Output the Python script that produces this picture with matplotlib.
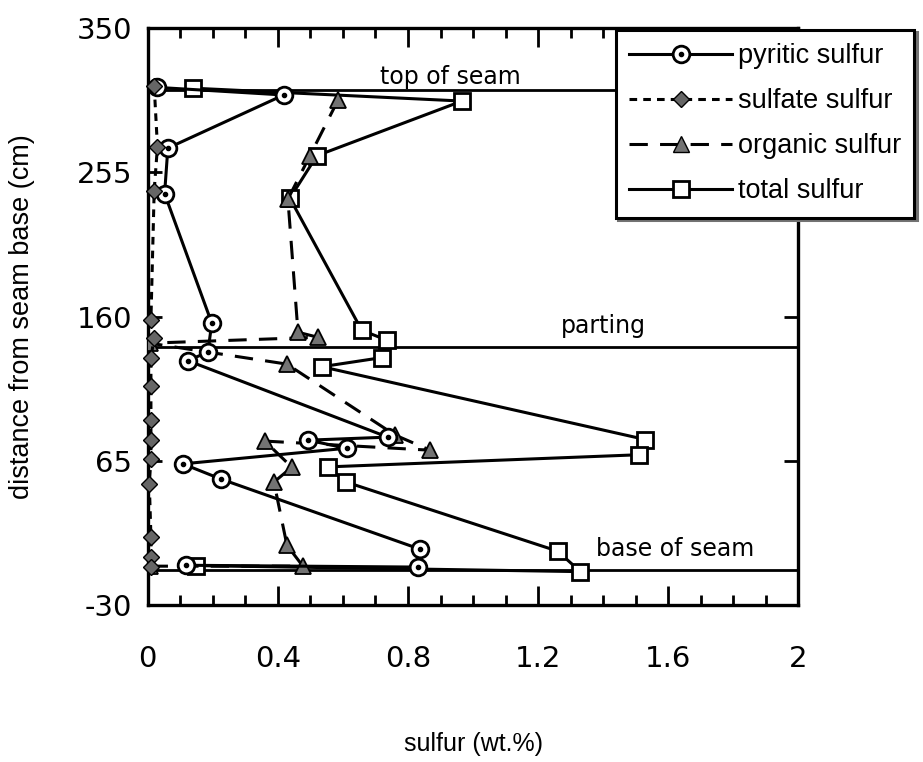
import matplotlib
matplotlib.use("Agg")
import matplotlib.pyplot as plt
from matplotlib.lines import Line2D
from matplotlib.ticker import MultipleLocator

# sulfur forms (wt.%) against distance from seam base (cm)
pyritic_x = [0.03, 0.418, 0.062, 0.052, 0.197, 0.185, 0.123, 0.738, 0.492, 0.612, 0.108, 0.225, 0.837, 0.83, 0.117]
pyritic_d = [311, 306, 271, 241, 155.7, 136.6, 131, 80.6, 78.6, 73.3, 63, 53, 6.8, -5, -3.8]

sulfate_x = [0.02, 0.03, 0.02, 0.01, 0.02, 0.01, 0.01, 0.01, 0.01, 0.01, 0.005, 0.01, 0.01, 0.01]
sulfate_d = [312, 272, 243, 158, 146, 133, 114, 92, 79, 66, 50, 15, 1.5, -5]

organic_x = [0.585, 0.498, 0.431, 0.462, 0.523, 0.006, 0.428, 0.76, 0.868, 0.36, 0.443, 0.388, 0.428, 0.477, 0.006]
organic_d = [302.6, 265.7, 237.4, 149.7, 146.4, 142.5, 128.7, 82, 72, 78, 60.8, 51, 9.4, -4.4, -4.4]

total_x = [0.138, 0.966, 0.52, 0.437, 0.658, 0.735, 0.72, 0.535, 1.53, 1.51, 0.554, 0.61, 1.26, 1.33, 0.148]
total_d = [310.5, 302, 266, 238, 151, 144.5, 133, 127, 79, 69, 61, 51, 5.5, -8, -4]

# horizon levels
horizons = {"top of seam": 309, "parting": 140, "base of seam": -7}
horizon_text = {"top of seam": (0.93, 318), "parting": (1.4, 154), "base of seam": (1.62, 7)}

xticks = [0, 0.4, 0.8, 1.2, 1.6, 2]
xtick_labels = ["0", "0.4", "0.8", "1.2", "1.6", "2"]
yticks = [-30, 65, 160, 255, 350]
ytick_labels = ["-30", "65", "160", "255", "350"]

label_font = ["Liberation Sans Narrow", "Liberation Sans"]

fig = plt.figure(figsize=(9.23, 7.62), dpi=100)
ax = fig.add_axes([0.160, 0.206, 0.705, 0.757])

for name, d in horizons.items():
    ax.axhline(d, color="k", lw=2.0, zorder=1)
    tx, ty = horizon_text[name]
    ax.text(tx, ty, name, ha="center", va="center", fontsize=17,
            family="DejaVu Sans", zorder=4)

lw = 2.2
ax.plot(total_x, total_d, "-", color="k", lw=lw, marker="s", ms=12,
        mfc="white", mec="k", mew=2, zorder=3)
ax.plot(organic_x, organic_d, color="k", lw=lw, ls=(0, (6, 4)), marker="^", ms=12,
        mfc="0.45", mec="k", mew=1.3, zorder=3)
ax.plot(pyritic_x, pyritic_d, "-", color="k", lw=lw, marker="o", ms=12,
        mfc="white", mec="k", mew=2, zorder=3)
ax.plot(pyritic_x, pyritic_d, ls="none", marker="o", ms=3, color="k", zorder=3)
ax.plot(sulfate_x, sulfate_d, color="k", lw=lw, ls=(0, (2.5, 2)), marker="D", ms=8,
        mfc="0.4", mec="k", mew=1, zorder=3, clip_on=False)

ax.set_xlim(0, 2)
ax.set_ylim(-30, 350)
ax.set_xticks(xticks, labels=xtick_labels)
ax.set_yticks(yticks, labels=ytick_labels)
ax.xaxis.set_minor_locator(MultipleLocator(0.1))
ax.tick_params(axis="x", which="both", direction="in", top=True, bottom=True,
               labelsize=21, pad=29, width=2)
ax.tick_params(axis="x", which="major", length=14)
ax.tick_params(axis="x", which="minor", length=7)
ax.tick_params(axis="y", direction="in", left=True, right=True, labelsize=21,
               pad=11, length=10, width=2)
for s in ax.spines.values():
    s.set_linewidth(2.4)

ax.set_xlabel("sulfur (wt.%)", fontsize=18, family=label_font, labelpad=42)
ax.set_ylabel("distance from seam base (cm)", fontsize=19.5, family=label_font,
              labelpad=30)

handles = [
    (Line2D([], [], color="k", lw=lw, marker="o", ms=12, mfc="white", mec="k", mew=2),
     Line2D([], [], ls="none", marker="o", ms=3, color="k")),
    Line2D([], [], color="k", lw=lw, ls=(0, (2.5, 2)), marker="D", ms=8, mfc="0.4", mec="k"),
    Line2D([], [], color="k", lw=lw, ls=(0, (6, 4)), marker="^", ms=12, mfc="0.45", mec="k"),
    Line2D([], [], color="k", lw=lw, marker="s", ms=12, mfc="white", mec="k", mew=2),
]
labels = ["pyritic sulfur", "sulfate sulfur", "organic sulfur", "total sulfur"]
leg = fig.legend(handles, labels, loc="upper left", bbox_to_anchor=(0.667, 0.961),
                 borderaxespad=0, fancybox=False, edgecolor="k", framealpha=1,
                 handlelength=3.8, labelspacing=0.7, borderpad=0.5, handletextpad=0.2,
                 prop={"family": label_font, "size": 19.5},
                 shadow={"color": "0.45", "alpha": 1})
leg.get_frame().set_linewidth(2.2)

fig.savefig("out.png", dpi=100)
